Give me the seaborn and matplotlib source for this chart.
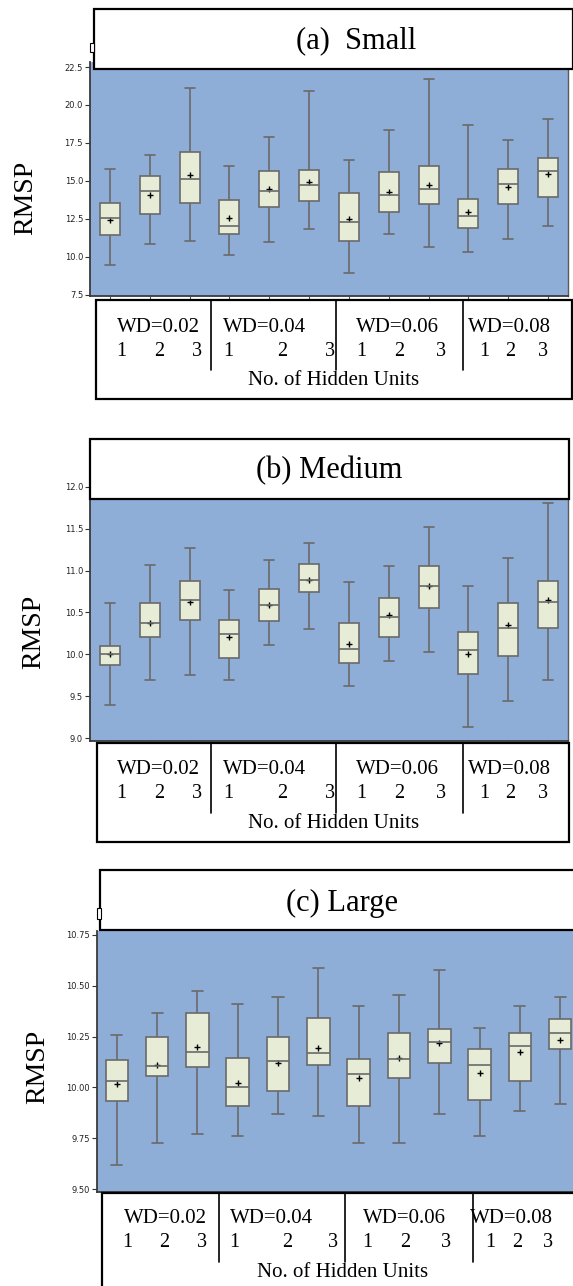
import numpy as np
import pandas as pd
import seaborn as sns
import matplotlib.pyplot as plt
from matplotlib.patches import Rectangle
from matplotlib.lines import Line2D
from matplotlib.ticker import FormatStrFormatter

W, H = 573, 1286

weight_decays = ["0.02", "0.04", "0.06", "0.08"]
hidden_units = ["1", "2", "3"]
cats = [f"{wd}-{h}" for wd in weight_decays for h in hidden_units]

# (a) Small : whisker low, Q1, median, Q3, whisker high, mean
small_low = [9.47, 10.83, 11.05, 10.13, 10.97, 11.82, 8.93, 11.49, 10.66, 10.33, 11.18, 11.99]
small_q1 = [11.45, 12.83, 13.53, 11.49, 13.29, 13.66, 11.05, 12.94, 13.49, 11.86, 13.49, 13.95]
small_med = [12.55, 14.32, 15.15, 12.00, 14.30, 14.74, 12.30, 14.06, 14.45, 12.68, 14.82, 15.64]
small_q3 = [13.55, 15.35, 16.89, 13.75, 15.68, 15.70, 14.19, 15.57, 15.99, 13.82, 15.81, 16.49]
small_high = [15.81, 16.73, 21.14, 15.97, 17.92, 20.94, 16.40, 18.33, 21.73, 18.66, 17.72, 19.10]
small_mean = [12.45, 14.08, 15.41, 12.57, 14.49, 14.91, 12.50, 14.26, 14.72, 12.94, 14.61, 15.44]

# (b) Medium
medium_low = [9.40, 9.70, 9.75, 9.70, 10.11, 10.30, 9.625, 9.92, 10.03, 9.14, 9.44, 9.69]
medium_q1 = [9.875, 10.21, 10.41, 9.96, 10.40, 10.745, 9.895, 10.21, 10.55, 9.77, 9.98, 10.31]
medium_med = [10.01, 10.38, 10.65, 10.24, 10.59, 10.89, 10.06, 10.45, 10.82, 10.05, 10.31, 10.62]
medium_q3 = [10.105, 10.61, 10.87, 10.415, 10.78, 11.08, 10.38, 10.67, 11.06, 10.27, 10.61, 10.87]
medium_high = [10.61, 11.07, 11.27, 10.77, 11.13, 11.33, 10.86, 11.05, 11.52, 10.82, 11.15, 11.81]
medium_mean = [10.00, 10.38, 10.62, 10.21, 10.59, 10.89, 10.13, 10.47, 10.81, 10.00, 10.35, 10.65]

# (c) Large
large_low = [9.617, 9.725, 9.77, 9.763, 9.867, 9.86, 9.725, 9.729, 9.867, 9.761, 9.883, 9.919]
large_q1 = [9.932, 10.054, 10.10, 9.908, 9.982, 10.108, 9.908, 10.044, 10.12, 9.937, 10.032, 10.187]
large_med = [10.03, 10.105, 10.172, 10.0, 10.13, 10.17, 10.064, 10.138, 10.221, 10.108, 10.202, 10.266]
large_q3 = [10.136, 10.25, 10.367, 10.146, 10.25, 10.341, 10.141, 10.266, 10.287, 10.19, 10.269, 10.335]
large_high = [10.26, 10.364, 10.474, 10.41, 10.445, 10.589, 10.40, 10.454, 10.578, 10.293, 10.40, 10.443]
large_mean = [10.017, 10.11, 10.197, 10.021, 10.118, 10.195, 10.046, 10.144, 10.218, 10.069, 10.172, 10.234]

small_ticks = [7.5, 10.0, 12.5, 15.0, 17.5, 20.0, 22.5]
medium_ticks = [9.0, 9.5, 10.0, 10.5, 11.0, 11.5, 12.0]
large_ticks = [9.50, 9.75, 10.00, 10.25, 10.50, 10.75]

BLUE = "#8eaed8"
FILL = "#e7ecd6"
EDGE = "#6a6a6a"
SERIF = "Liberation Serif"

sns.set_style("ticks")
plt.rcParams["font.family"] = ["DejaVu Sans"]


def fx(x):
    return x / W


def fy(y):
    return 1 - y / H


def long_frame(low, q1, med, q3, high):
    rows = []
    for c, a, b, m, d, e in zip(cats, low, q1, med, q3, high):
        for v in (a, b, m, d, e):
            rows.append({"cat": c, "value": v})
    return pd.DataFrame(rows)


fig = plt.figure(figsize=(W / 100, H / 100), dpi=100)


def panel(box, ylim, ticks, fmt, stats, means, width):
    x0, y0, x1, y1 = box
    ax = fig.add_axes([fx(x0), fy(y1), (x1 - x0) / W, (y1 - y0) / H])
    df = long_frame(*stats)
    sns.boxplot(data=df, x="cat", y="value", order=cats, ax=ax, color=FILL,
                linecolor=EDGE, linewidth=1.2, width=width, whis=(0, 100),
                showfliers=False, saturation=1)
    sns.pointplot(x=cats, y=means, order=cats, ax=ax, color="black",
                  marker="+", linestyle="none", markersize=5,
                  markeredgewidth=1.0, errorbar=None)
    ax.set_facecolor(BLUE)
    ax.set_xlim(-0.5, 11.5)
    ax.set_ylim(*ylim)
    ax.set_yticks(ticks)
    ax.yaxis.set_major_formatter(FormatStrFormatter(fmt))
    ax.set_xticks(range(len(cats)))
    ax.set_xticklabels([])
    ax.set_xlabel("")
    ax.set_ylabel("")
    ax.tick_params(axis="y", labelsize=6, length=3.5, width=0.8, pad=1.5,
                   color="#333333", labelcolor="#222222")
    ax.tick_params(axis="x", length=3, width=0.8, color="#555555")
    for side in ["left", "bottom"]:
        ax.spines[side].set_color("#3a3a3a")
        ax.spines[side].set_linewidth(1.3)
    ax.spines["right"].set_visible(True)
    ax.spines["right"].set_color("#5a5a5a")
    ax.spines["right"].set_linewidth(1.0)
    ax.spines["top"].set_visible(False)
    return ax


def frame_box(x0, y0, x1, y1, lw=1.6):
    r = Rectangle((fx(x0), fy(y1)), (x1 - x0) / W, (y1 - y0) / H,
                  transform=fig.transFigure, facecolor="white",
                  edgecolor="black", linewidth=lw, zorder=5)
    fig.add_artist(r)


def vline(x, y0, y1, lw=1.2):
    fig.add_artist(Line2D([fx(x), fx(x)], [fy(y0), fy(y1)],
                          transform=fig.transFigure, color="black",
                          linewidth=lw, zorder=6))


def ftext(x, y, s, size, **kw):
    fig.text(fx(x), fy(y), s, fontsize=size, family=SERIF, color="black",
             zorder=7, **kw)


def title_box(box, text, cx, base):
    frame_box(*box)
    ftext(cx, base, text, 22, ha="center", va="baseline")


def label_box(box, seps, sep_bottom, head_x, head_y, digit_x, digit_y,
              foot_x, foot_y):
    frame_box(*box)
    for s in seps:
        vline(s, box[1], sep_bottom)
    for wd, hx in zip(weight_decays, head_x):
        ftext(hx, head_y, f"WD={wd}", 15, ha="center", va="baseline")
    for xs in digit_x:
        for h, dx in zip(hidden_units, xs):
            ftext(dx, digit_y, h, 14.5, ha="center", va="baseline")
    ftext(foot_x, foot_y, "No. of Hidden Units", 15, ha="center", va="baseline")


# ---- panel (a)
panel((90, 62, 568, 296), (7.41, 22.83), small_ticks, "%.1f",
      (small_low, small_q1, small_med, small_q3, small_high), small_mean, 0.5)
title_box((94, 9, 572.7, 69), "(a)  Small", 356, 48.3)
frame_box(89.5, 43, 93.5, 52, lw=0.8)
label_box((95.7, 300, 572, 399), [211, 336, 462.7], 370,
          [158, 264.5, 397.5, 509], 331.5,
          [[121, 159, 197], [228, 282, 330], [361, 399, 441], [484, 510, 543]], 355.5,
          333.7, 385)
ftext(26, 198, "RMSP", 20, rotation=90, ha="center", va="center")

# ---- panel (b)
panel((90, 460, 568, 741), (8.968, 12.318), medium_ticks, "%.1f",
      (medium_low, medium_q1, medium_med, medium_q3, medium_high), medium_mean, 0.5)
title_box((90, 439, 569, 499), "(b) Medium", 329.5, 478.3)
label_box((96.7, 743, 569, 842), [211, 336, 462.7], 813,
          [158, 264.5, 397.5, 509], 774.5,
          [[121, 159, 197], [228, 282, 330], [361, 399, 441], [484, 510, 543]], 798.5,
          333.7, 828)
ftext(34, 632, "RMSP", 20, rotation=90, ha="center", va="center")

# ---- panel (c)
panel((96.7, 930.7, 580.3, 1191.7), (9.487, 10.771), large_ticks, "%.2f",
      (large_low, large_q1, large_med, large_q3, large_high), large_mean, 0.56)
title_box((100, 870, 610, 930), "(c) Large", 341.5, 911)
frame_box(97, 908, 100.5, 919, lw=0.8)
label_box((102, 1192.7, 610, 1300), [218.7, 345, 472.7], 1261.7,
          [165, 272, 404, 511], 1222.7,
          [[127, 164, 202], [234, 287, 333], [367, 405, 446], [490, 516.7, 548]], 1247.3,
          343, 1276.7)
ftext(37.5, 1067, "RMSP", 20, rotation=90, ha="center", va="center")

fig.savefig("out.png", dpi=100)
